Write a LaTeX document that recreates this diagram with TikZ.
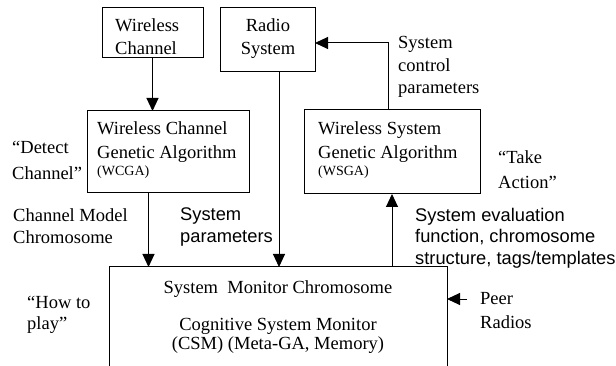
\documentclass[tikz,border=0pt]{standalone}
\usepackage{fontspec}
\setmainfont{Liberation Serif}
\setsansfont{Liberation Sans}
\usetikzlibrary{arrows.meta}
\begin{document}
\begin{tikzpicture}[x=1pt,y=-1pt,
  box/.style={draw, line width=1pt, inner sep=0pt, outer sep=0pt},
  arr/.style={line width=1pt, -{Triangle[length=13pt,width=12pt]}},
  tx/.style={inner sep=0pt, anchor=north west, align=left, font=\fontsize{18.5}{23}\selectfont},
  txc/.style={inner sep=0pt, anchor=north, align=center, font=\fontsize{18.5}{23}\selectfont},
  sm/.style={inner sep=0pt, anchor=north west, font=\fontsize{14}{16}\selectfont},
  sf/.style={inner sep=0pt, anchor=north west, align=left, font=\sffamily\fontsize{18.3}{22}\selectfont}]
\useasboundingbox (0,0) rectangle (616,366);
\clip (0,0) rectangle (616,366);
\fill[white] (0,0) rectangle (616,366);
% boxes
\node[box, minimum width=101pt, minimum height=50pt] (wc) at (152.5,33) {};
\node[box, minimum width=95pt, minimum height=64pt] (radio) at (267.5,40) {};
\node[box, minimum width=162pt, minimum height=82pt] (wcga) at (168,152) {};
\node[box, minimum width=176pt, minimum height=84pt] (wsga) at (392,152) {};
\node[box, minimum width=338pt, minimum height=123pt] (csm) at (278,328.5) {};
% box texts
\node[tx] (wctext) at (115,18.5) {Wireless\\Channel};
\node[txc] (radiotext) at (268,18.5) {Radio\\System};
\node[tx, font=\fontsize{18.5}{24}\selectfont] (wcgatext) at (97,121.5) {Wireless Channel\\Genetic Algorithm};
\node[sm] (wcgaabbr) at (97,166) {(WCGA)};
\node[tx, font=\fontsize{18.5}{24}\selectfont] (wsgatext) at (318,121.5) {Wireless System\\Genetic Algorithm};
\node[sm] (wsgaabbr) at (318,166) {(WSGA)};
\node[txc] (csmtitle) at (278,280.5) {System\ \ Monitor Chromosome};
\node[txc, font=\fontsize{18.5}{19}\selectfont] (csmtext) at (278,318.5) {Cognitive System Monitor\\(CSM) (Meta-GA, Memory)};
% outside labels
\node[tx, font=\fontsize{18.5}{26}\selectfont] (detect) at (12,140.5) {“Detect\\Channel”};
\node[tx, font=\fontsize{18.5}{25}\selectfont] (take) at (498,150.5) {“Take\\Action”};
\node[tx, font=\fontsize{18.5}{22.5}\selectfont] (sysctl) at (398,36.5) {System\\control\\parameters};
\node[tx, font=\fontsize{18.5}{22}\selectfont] (chmodel) at (13,208.5) {Channel Model\\Chromosome};
\node[sf] (syspar) at (180,208) {System\\parameters};
\node[sf, font=\sffamily\fontsize{18.3}{21.5}\selectfont] (syseval) at (415,208) {System evaluation\\function, chromosome\\structure, tags/templates};
\node[tx, font=\fontsize{18.5}{21}\selectfont] (howto) at (27,295.5) {“How to\\play”};
\node[tx, font=\fontsize{18.5}{24}\selectfont] (peer) at (480,292.5) {Peer\\Radios};
% connectors
\draw[arr] (wc.south) -- (wc.south |- wcga.north);
\draw[arr] ([xshift=11.5pt]radio.south) -- ([xshift=11.5pt]radio.south |- csm.north);
\draw[arr] ([xshift=-19.5pt]wcga.south) -- ([xshift=-19.5pt]wcga.south |- csm.north);
\draw[arr] (wsga.south |- csm.north) -- (wsga.south);
\draw[arr] ([xshift=-4pt]wsga.north) |- ([yshift=-3pt]radio.east);
\coordinate (peerpt) at (467,299);
\draw[arr] (peerpt) -- (peerpt -| csm.east);
\end{tikzpicture}
\end{document}
